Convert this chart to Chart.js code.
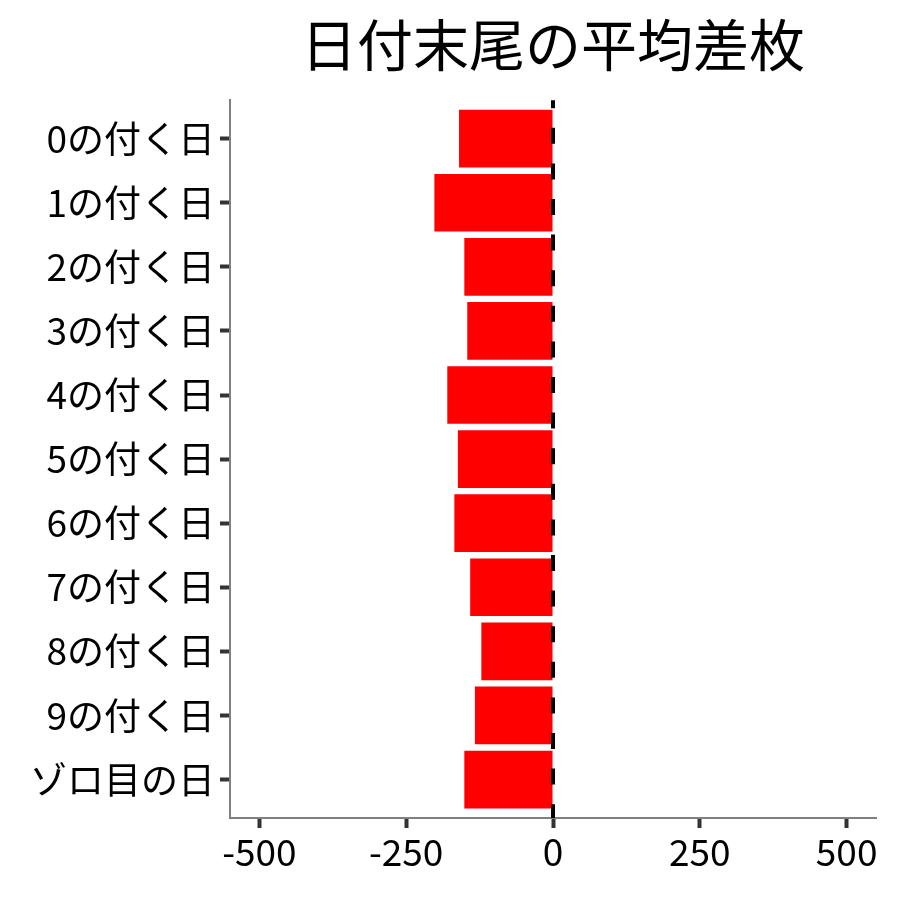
<!DOCTYPE html>
<html>
<head>
<meta charset="utf-8">
<script src="https://cdn.jsdelivr.net/npm/chart.js@4"></script>
<style>
  html, body { margin: 0; padding: 0; background: #fff; }
  #wrap { width: 900px; height: 900px; }
</style>
</head>
<body>
<div id="wrap"><canvas id="chart" width="900" height="900"></canvas></div>
<script>
const categories = ['0の付く日', '1の付く日', '2の付く日', '3の付く日', '4の付く日', '5の付く日',
  '6の付く日', '7の付く日', '8の付く日', '9の付く日', 'ゾロ目の日'];
const avgDiff = [-160, -202, -151, -146, -180, -162, -168, -141, -122, -133, -151];
const xTicks = [-500, -250, 0, 250, 500];

const FONT = "'Noto Sans CJK JP', 'Noto Sans', sans-serif";

// dashed reference line at zero
const zeroLine = {
  id: 'zeroLine',
  afterDatasetsDraw(chart) {
    const { ctx, chartArea, scales } = chart;
    const x = scales.x.getPixelForValue(0);
    ctx.save();
    ctx.strokeStyle = '#000';
    ctx.lineWidth = 4;
    ctx.setLineDash([16, 19.6]);
    ctx.lineDashOffset = 8;
    ctx.beginPath();
    ctx.moveTo(x, chartArea.top);
    ctx.lineTo(x, chartArea.bottom);
    ctx.stroke();
    ctx.restore();
  },
};

new Chart(document.getElementById('chart').getContext('2d'), {
  type: 'bar',
  data: {
    datasets: [
      {
        data: avgDiff.map((v, i) => ({ x: v, y: i })),
        backgroundColor: '#ff0000',
        borderWidth: 0,
        categoryPercentage: 1,
        barPercentage: 0.9,
      },
    ],
  },
  options: {
    indexAxis: 'y',
    responsive: false,
    animation: false,
    layout: { padding: { left: 0, right: 24, top: 0, bottom: 0 } },
    plugins: {
      legend: { display: false },
      tooltip: { enabled: false },
      title: {
        display: true,
        text: '日付末尾の平均差枚',
        fullSize: false,
        color: '#000',
        font: { family: FONT, size: 56, weight: 'normal' },
        padding: { top: 11, bottom: 22 },
      },
    },
    scales: {
      x: {
        type: 'linear',
        min: -550,
        max: 550,
        afterBuildTicks: (scale) => {
          scale.ticks = xTicks.map((v) => ({ value: v }));
        },
        afterFit: (scale) => {
          scale.height = 82;
        },
        ticks: {
          color: '#000',
          font: { family: FONT, size: 37 },
          padding: 2,
          maxRotation: 0,
          callback: (v) => String(v),
        },
        grid: {
          display: true,
          drawOnChartArea: false,
          drawTicks: true,
          tickLength: 10,
          tickWidth: 4,
          tickColor: '#333',
        },
        border: { display: true, color: '#808080', width: 2 },
      },
      y: {
        type: 'linear',
        reverse: true,
        offset: false,
        min: -0.6,
        max: 10.6,
        afterBuildTicks: (scale) => {
          scale.ticks = categories.map((_, i) => ({ value: i }));
        },
        afterFit: (scale) => {
          scale.width = 230;
        },
        ticks: {
          color: '#000',
          autoSkip: false,
          font: { family: FONT, size: 37 },
          padding: 5,
          callback: (v) => categories[v],
        },
        grid: {
          display: true,
          offset: false,
          drawOnChartArea: false,
          drawTicks: true,
          tickLength: 10,
          tickWidth: 4,
          tickColor: '#333',
        },
        border: { display: true, color: '#808080', width: 2 },
      },
    },
  },
  plugins: [zeroLine],
});
</script>
</body>
</html>
